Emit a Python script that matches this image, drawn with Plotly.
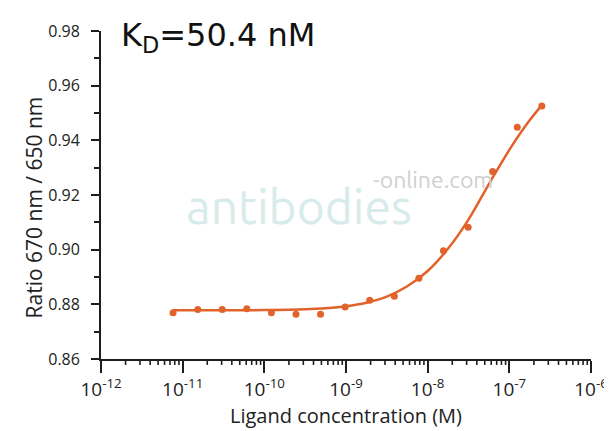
import math
import plotly.graph_objects as go

# Measured data points
conc_M = [7.63e-12, 1.53e-11, 3.05e-11, 6.10e-11, 1.22e-10, 2.44e-10, 4.88e-10, 9.77e-10,
          1.95e-9, 3.91e-9, 7.81e-9, 1.56e-8, 3.13e-8, 6.25e-8, 1.25e-7, 2.50e-7]
ratio = [0.8769, 0.8781, 0.8781, 0.8784, 0.8769, 0.8764, 0.8764, 0.8790,
         0.8815, 0.8830, 0.8895, 0.8996, 0.9082, 0.9286, 0.9448, 0.9526]

# Fit curve
fit_conc = [7.63e-12, 3.16e-11, 1.0e-10, 3.16e-10, 5.62e-10, 1.0e-9, 1.78e-9, 3.16e-9,
            5.62e-9, 1.0e-8, 1.78e-8, 3.16e-8, 5.62e-8, 1.0e-7, 1.78e-7, 2.50e-7]
fit_ratio = [0.8778, 0.8778, 0.8779, 0.8782, 0.8786, 0.8793, 0.8806, 0.8828,
             0.8866, 0.8922, 0.9004, 0.9110, 0.9240, 0.9365, 0.9474, 0.9528]

x_tickvals = [1e-12, 1e-11, 1e-10, 1e-9, 1e-8, 1e-7, 1e-6]
x_ticktext = ["10<sup>-12</sup>", "10<sup>-11</sup>", "10<sup>-10</sup>", "10<sup>-9</sup>",
              "10<sup>-8</sup>", "10<sup>-7</sup>", "10<sup>-6</sup>"]
minor_mantissas = [2, 3, 4, 5, 6, 7, 8, 9]
x_minor_tickvals = [m * d for d in x_tickvals[:-1] for m in minor_mantissas]
x_log_range = [-12, -6]

orange = "#e2622b"
axis_col = "#1e1e1e"
font_family = "Open Sans, Noto Sans, DejaVu Sans, sans-serif"

W, H = 612, 431
ML, MR, MT, MB = 93, 21, 20, 80
plot_w = W - ML - MR
plot_h = H - MT - MB


def px_to_paper(px, py):
    return (px - ML) / plot_w, (H - MB - py) / plot_h


fig = go.Figure()
fig.add_trace(go.Scatter(x=fit_conc, y=fit_ratio, mode="lines",
                         line=dict(color=orange, width=2.5, shape="spline", smoothing=1.0),
                         hoverinfo="skip"))
fig.add_trace(go.Scatter(x=conc_M, y=ratio, mode="markers",
                         marker=dict(color=orange, size=7)))

# minor ticks on the log x axis (axis decoration built from the tick list)
minor_len = 6 / plot_h
span = x_log_range[1] - x_log_range[0]
for v in x_minor_tickvals:
    xp = (math.log10(v) - x_log_range[0]) / span
    fig.add_shape(type="line", xref="paper", yref="paper", x0=xp, x1=xp, y0=0, y1=-minor_len,
                  line=dict(color=axis_col, width=1.6), layer="above")

# watermark
fig.add_annotation(x=-9.58, y=0.9158, xref="x", yref="y", text="antibodies", showarrow=False,
                   font=dict(family="Ubuntu, Lato, Open Sans, sans-serif", size=48, color="#d8ebeb"))
fig.add_annotation(x=-7.93, y=0.9255, xref="x", yref="y", text="-online.com", showarrow=False,
                   font=dict(family="Ubuntu, Lato, Open Sans, sans-serif", size=23, color="#d0d0d0"))

# KD label
kx, ky = px_to_paper(111, 26)
fig.add_annotation(x=kx, y=ky, xref="paper", yref="paper", xanchor="left", yanchor="middle",
                   text="K<sub>D</sub>=50.4 nM", showarrow=False,
                   font=dict(family="DejaVu Sans, sans-serif", size=32, color="#111111"))

# y axis title
tx, ty = px_to_paper(25, 198)
fig.add_annotation(x=tx, y=ty, xref="paper", yref="paper", xanchor="center", yanchor="middle",
                   text="Ratio 670 nm / 650 nm", textangle=-90, showarrow=False,
                   font=dict(family=font_family, size=21, color="#222222"))

fig.update_layout(
    width=W, height=H,
    margin=dict(l=ML, r=MR, t=MT, b=MB),
    paper_bgcolor="white", plot_bgcolor="white",
    showlegend=False,
    font=dict(family=font_family, color="#222222"),
)

fig.update_xaxes(
    type="log", range=x_log_range,
    tickvals=x_tickvals, ticktext=x_ticktext,
    tickfont=dict(size=19),
    ticks="outside", ticklen=12, tickwidth=1.8, tickcolor=axis_col,
    showline=True, linecolor=axis_col, linewidth=1.8,
    showgrid=False, zeroline=False,
    title=dict(text="Ligand concentration (M)", font=dict(size=20), standoff=8),
)
fig.update_yaxes(
    range=[0.86, 0.98], dtick=0.02, tickformat=".2f",
    tickfont=dict(size=16), ticklabelstandoff=8,
    ticks="outside", ticklen=8, tickwidth=1.8, tickcolor=axis_col,
    showline=True, linecolor=axis_col, linewidth=1.8,
    showgrid=False, zeroline=False,
    minor=dict(ticks="outside", ticklen=5, tickwidth=1.5, tickcolor=axis_col, dtick=0.01, showgrid=False),
)

fig.write_html("out.html")
